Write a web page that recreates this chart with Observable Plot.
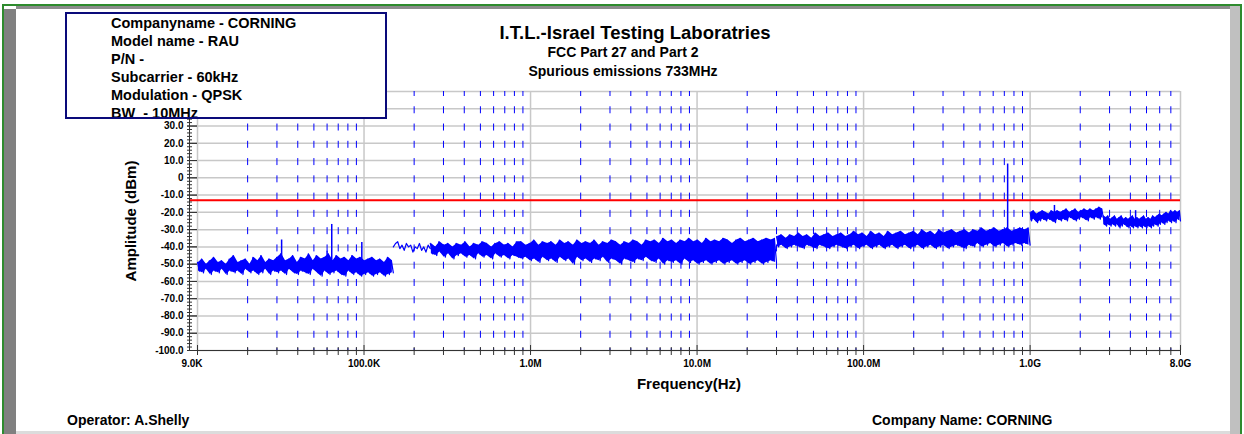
<!DOCTYPE html>
<html><head><meta charset="utf-8">
<script src="https://cdn.jsdelivr.net/npm/d3@7"></script>
<script src="https://cdn.jsdelivr.net/npm/@observablehq/plot@0.6"></script>
<style>
body{margin:0;background:#fff;font-family:"Liberation Sans",Arial,sans-serif;}
#wrap{position:relative;width:1244px;height:434px;overflow:hidden;background:#fff;}
#chart{position:absolute;left:0;top:0;}
.abs{position:absolute;}
.t{position:absolute;font-weight:bold;color:#000;white-space:pre;}
</style></head><body>
<div id="wrap">
  <div id="chart"></div>
  <!-- page frame -->
  <div class="abs" style="left:2px;top:4px;width:1240px;height:2px;background:#2e8b2e"></div>
  <div class="abs" style="left:2px;top:4px;width:2px;height:430px;background:#2e8b2e"></div>
  <div class="abs" style="left:1240px;top:4px;width:2px;height:430px;background:#2e8b2e"></div>
  <div class="abs" style="left:16px;top:6px;width:1214px;height:3px;background:#8c8c8c"></div>
  <div class="abs" style="left:4px;top:9px;width:12px;height:425px;background:#808080"></div>
  <div class="abs" style="left:1230px;top:6px;width:10px;height:428px;background:#c0c0c0"></div>
  <div class="abs" style="left:16px;top:431px;width:1214px;height:3px;background:#dcdcdc"></div>
  <!-- titles -->
  <div class="t" style="left:335px;width:600px;text-align:center;top:22px;font-size:18.5px;line-height:22px">I.T.L.-Israel Testing Laboratries</div>
  <div class="t" style="left:323px;width:600px;text-align:center;top:43px;font-size:14px;line-height:18px">FCC Part 27 and Part 2</div>
  <div class="t" style="left:323px;width:600px;text-align:center;top:62px;font-size:14px;line-height:18px">Spurious emissions 733MHz</div>
  <!-- info box -->
  <div class="abs" style="left:65px;top:13px;width:322px;height:106px;background:#fff"></div>
  <div class="t" style="left:111px;top:14px;font-size:14.5px;line-height:18px">Companyname - CORNING
Model name - RAU
P/N - 
Subcarrier - 60kHz
Modulation - QPSK
BW  - 10MHz</div>
  <div class="abs" style="left:65px;top:12px;width:318px;height:103px;border:2px solid #0a0a7a"></div>
  <!-- footer -->
  <div class="t" style="left:67px;top:411px;font-size:14px;line-height:18px">Operator: A.Shelly</div>
  <div class="t" style="left:872px;top:411px;font-size:14px;line-height:18px">Company Name: CORNING</div>
</div>
<script>
// ---- axes / ticks ----
const xDomain = [1e4, 8e9];
const yDomain = [-100, 50];
const xMajor = [1e4, 1e5, 1e6, 1e7, 1e8, 1e9, 8e9];
const xLabels = ["9.0K", "100.0K", "1.0M", "10.0M", "100.0M", "1.0G", "8.0G"];
const minorMultiples = [2, 3, 4, 5, 6, 7, 8, 9];
const minorDecades = [1e4, 1e5, 1e6, 1e7, 1e8, 1e9];
const yMajor = [50, 40, 30, 20, 10, 0, -10, -20, -30, -40, -50, -60, -70, -80, -90, -100];
// labels that are visible (50.0 and 40.0 sit under the info box)
const yLabelTicks = [30, 20, 10, 0, -10, -20, -30, -40, -50, -60, -70, -80, -90, -100];
const yLabels = ["30.0", "20.0", "10.0", "0", "-10.0", "-20.0", "-30.0", "-40.0", "-50.0", "-60.0", "-70.0", "-80.0", "-90.0", "-100.0"];
const limitLine = -13;

// ---- trace segments (sweep ranges, Hz) ----
const segStart  = [1e4, 1.5e5, 2.5e5, 3e7, 1e9, 2.75e9];
const segStop   = [1.5e5, 2.5e5, 3e7, 1e9, 2.75e9, 8e9];
const segFilled = [true, false, true, true, true, true];

// trace values (dBm), as upper / lower excursion pairs
const seg1Trace = [-49,-54,-47,-55,-50,-53,-48,-56,-46,-54,-49,-55,-48,-53,-50,-56,-47,-54,-45,-55,
-49,-54,-48,-56,-47,-53,-50,-55,-46,-54,-48,-56,-45,-55,-49,-53,-47,-56,-48,-54,
-46,-55,-44,-54,-48,-56,-47,-53,-45,-55,-49,-56,-46,-54,-47,-55,-44,-56,-48,-53,
-45,-55,-47,-57,-46,-54,-44,-56,-48,-55,-45,-54,-47,-56,-46,-57,-48,-54,-45,-56,
-47,-55,-46,-57,-48,-56,-47,-55,-46,-57,-48,-56,-47,-55,-49,-57,-46,-56,-48,-55];

const seg2aTrace = [-40,-38,-37,-41,-39,-42,-38,-40,-39,-43,-40,-41,-38,-42,-40,-43,-39,-41];

const seg2bTrace = [-38,-44,-40,-45,-37,-43,-39,-46,-38,-44,-40,-47,-38,-45,-39,-44,-37,-46,-40,-45,
-38,-47,-39,-44,-37,-46,-38,-45,-40,-47,-38,-44,-37,-46,-39,-45,-38,-47,-40,-45,-37,-46,
-37,-47,-39,-46,-38,-48,-36,-47,-39,-49,-37,-46,-38,-48,-37,-47,-39,-49,-36,-46,
-38,-48,-37,-47,-39,-50,-36,-46,-38,-48,-37,-47,-38,-49,-36,-47,-39,-48,-37,-46,
-38,-49,-36,-47,-37,-48,-39,-50,-37,-47,-38,-48,-36,-49,-37,-47,-39,-48,-36,-46,
-37,-48,-36,-49,-38,-47,-35,-50,-37,-48,-36,-49,-38,-48,-36,-50,-37,-47,-35,-49,
-37,-48,-36,-50,-38,-49,-35,-48,-37,-50,-36,-49,-37,-48,-35,-50,-36,-49,-38,-48,
-36,-50,-35,-49,-37,-48,-36,-50,-35,-49,-37,-48,-36,-50,-35,-49,-36,-48,-35,-49];

const seg3Trace = [-34,-40,-33,-39,-35,-41,-33,-40,-34,-39,-32,-40,-34,-41,-33,-39,-35,-40,-32,-41,
-34,-39,-33,-40,-32,-41,-34,-40,-33,-39,-32,-40,-34,-41,-33,-40,-31,-39,-33,-41,
-32,-40,-34,-39,-31,-41,-33,-40,-32,-39,-34,-41,-31,-40,-33,-39,-32,-41,-31,-40,
-33,-39,-32,-41,-31,-40,-33,-39,-30,-41,-32,-40,-31,-39,-33,-41,-30,-40,-32,-39,
-31,-41,-30,-40,-32,-39,-31,-40,-30,-41,-32,-39,-30,-40,-31,-38,-29,-40,-31,-39,
-30,-38,-29,-40,-31,-39,-30,-38,-29,-40,-31,-39,-30,-38,-29,-39,-30,-38,-29,-39];

const seg4Trace = [-20,-25,-19,-24,-21,-26,-20,-25,-19,-24,-20,-25,-21,-24,-19,-25,-20,-26,-19,-24,
-20,-25,-19,-24,-18,-25,-20,-23,-19,-24,-18,-25,-20,-24,-19,-23,-18,-24,-19,-25,
-18,-23,-19,-24,-18,-23,-17,-24,-18,-23];

const seg5Trace = [-22,-27,-23,-28,-22,-27,-24,-28,-23,-27,-22,-28,-24,-27,-23,-29,-22,-28,-24,-27,
-23,-28,-24,-29,-23,-28,-22,-29,-24,-28,-23,-29,-24,-28,-23,-29,-22,-28,-24,-29,
-23,-28,-24,-29,-22,-28,-23,-27,-22,-28,-21,-27,-22,-26,-21,-27,-20,-26,-21,-25,
-19,-26,-20,-25,-19,-26,-20,-24,-19,-25];

// isolated spurs (Hz, base dBm, peak dBm)
const spurFreq = [32000, 60000, 64000, 97000, 733e6, 1.4e9, 4.3e9];
const spurBase = [-50, -50, -50, -52, -36, -22, -25];
const spurPeak = [-36, -42.5, -27, -37.5, 8, -16, -19];

// ---- build tables ----
const traces = [seg1Trace, seg2aTrace, seg2bTrace, seg3Trace, seg4Trace, seg5Trace];
const sweepPos = (s, t) => segStart[s] * Math.pow(segStop[s] / segStart[s], t);
const traceRows = traces.flatMap((vals, s) =>
  vals.map((v, i) => ({seg: s, f: sweepPos(s, i / (vals.length - 1)), v})));
const bandRows = traces.flatMap((vals, s) => {
  if (!segFilled[s]) return [];
  const rows = [];
  for (let k = 0; k + 1 < vals.length; k += 2)
    rows.push({seg: s, f: sweepPos(s, (k + 0.5) / (vals.length - 1)), hi: vals[k], lo: vals[k + 1]});
  return rows;
});
const spurs = spurFreq.map((f, i) => ({f, base: spurBase[i], peak: spurPeak[i]}));
const xMinor = minorDecades.flatMap(d => minorMultiples.map(m => m * d)).filter(f => f < 8e9);
const xGrid = xMajor;
const yMinor = d3.range(-100, 51, 2).filter(v => v % 10 !== 0);
const yLabelOf = d => yLabels[yLabelTicks.indexOf(d)];
const font = {fontSize: 10, fontWeight: "bold"};

const chart = Plot.plot({
  width: 1244,
  height: 434,
  marginLeft: 197,
  marginRight: 64,
  marginTop: 91,
  marginBottom: 84,
  style: {fontFamily: "'Liberation Sans', Arial, sans-serif", background: "transparent"},
  x: {type: "log", domain: xDomain, axis: null},
  y: {domain: yDomain, axis: null},
  marks: [
    Plot.ruleY(yMajor, {stroke: "#c8c8c8", strokeWidth: 1.5}),
    Plot.ruleX(xGrid, {stroke: "#c8c8c8", strokeWidth: 1.5}),
    Plot.ruleX(xMinor, {stroke: "#0000ff", strokeWidth: 1, strokeDasharray: "7,10.27", strokeDashoffset: 2}),
    Plot.ruleY([limitLine], {stroke: "#ff0000", strokeWidth: 2, insetLeft: -8}),
    Plot.areaY(bandRows, {x: "f", y1: "lo", y2: "hi", z: "seg", fill: "#0000ff", curve: "linear"}),
    Plot.line(traceRows, {x: "f", y: "v", z: "seg", stroke: "#0000ff", strokeWidth: 1.2}),
    Plot.ruleX(spurs, {x: "f", y1: "base", y2: "peak", stroke: "#0000ff", strokeWidth: 1.5}),
    // axis lines
    Plot.ruleY([-100], {stroke: "#333", strokeWidth: 1, insetLeft: -8}),
    Plot.ruleX([1e4], {stroke: "#333", strokeWidth: 1, dx: -8}),
    // y ticks
    Plot.axisY({ticks: yMinor, tickSize: 5, dx: -5, tickFormat: () => "", label: null, stroke: "#333"}),
    Plot.axisY({ticks: yMajor, tickSize: 10, tickFormat: () => "", label: null, stroke: "#333"}),
    Plot.axisY({ticks: yLabelTicks, tickSize: 10, tickPadding: 4, tickFormat: yLabelOf, label: null, stroke: "#333", ...font}),
    // x ticks
    Plot.axisX({ticks: xMinor, tickSize: 8, dy: -3, tickFormat: () => "", label: null, stroke: "#333"}),
    Plot.axisX({ticks: xMajor, tickSize: 10, dy: -5, tickFormat: () => "", label: null, stroke: "#333"}),
    // x tick labels
    Plot.text(xMajor.slice(1), {x: d => d, text: (d, i) => xLabels[i + 1], frameAnchor: "bottom",
      lineAnchor: "middle", dy: 13, ...font}),
    Plot.text(xMajor.slice(0, 1), {x: d => d, text: (d, i) => xLabels[i], frameAnchor: "bottom",
      lineAnchor: "middle", dy: 13, dx: 5, textAnchor: "end", ...font}),
    // axis titles
    Plot.text(["Frequency(Hz)"], {frameAnchor: "bottom", lineAnchor: "middle", dy: 34, fontSize: 15, fontWeight: "bold"}),
    Plot.text(["Amplitude (dBm)"], {frameAnchor: "left", textAnchor: "middle", lineAnchor: "middle",
      dx: -66, rotate: -90, fontSize: 15, fontWeight: "bold"})
  ]
});
document.getElementById("chart").appendChild(chart);
</script>
</body></html>
